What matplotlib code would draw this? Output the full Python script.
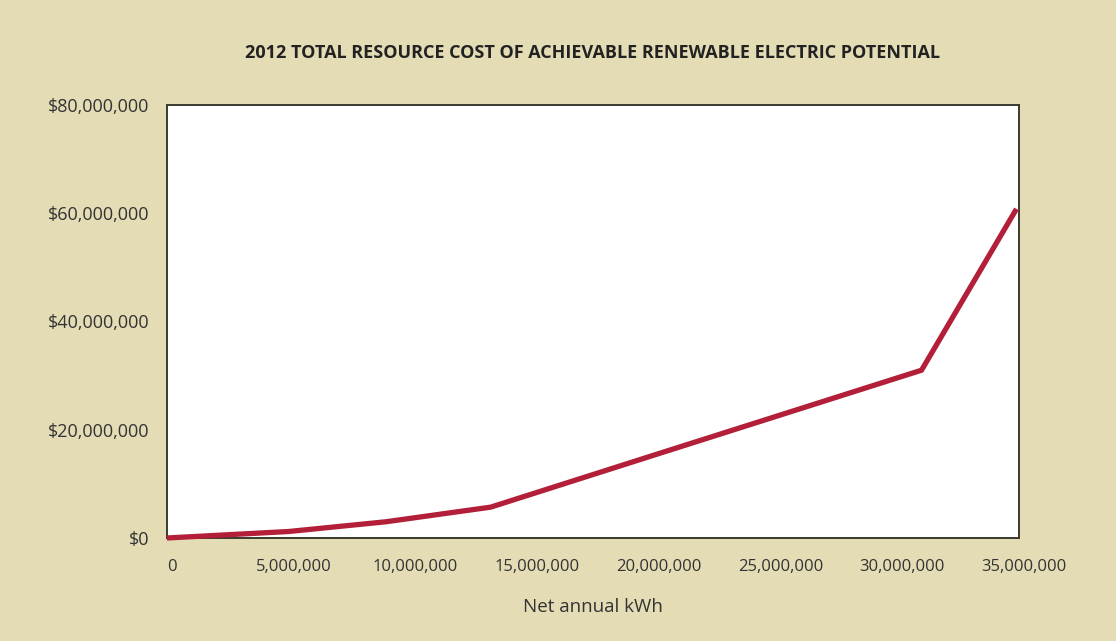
import matplotlib.pyplot as plt
from matplotlib.ticker import FuncFormatter
from matplotlib.transforms import ScaledTranslation

# values
kwh = [0, 5_000_000, 9_000_000, 13_300_000, 20_000_000, 31_000_000, 34_900_000]
cost = [0, 1_200_000, 3_000_000, 5_700_000, 15_300_000, 31_000_000, 60_800_000]
x_ticks = [0, 5_000_000, 10_000_000, 15_000_000, 20_000_000, 25_000_000, 30_000_000, 35_000_000]
y_ticks = [0, 20_000_000, 40_000_000, 60_000_000, 80_000_000]

title = "2012 TOTAL RESOURCE COST OF ACHIEVABLE RENEWABLE ELECTRIC POTENTIAL"
xlabel = "Net annual kWh"

bg = "#e3dcb5"
line_color = "#b31f38"
text_color = "#333333"

plt.rcParams["font.family"] = ["Open Sans", "DejaVu Sans"]

fig = plt.figure(figsize=(11.16, 6.41), dpi=100, facecolor=bg)
ax = fig.add_axes([0.1496, 0.1607, 0.7634, 0.6755])
ax.set_facecolor("white")

ax.plot(kwh, cost, color=line_color, linewidth=3.8, solid_capstyle="butt",
        solid_joinstyle="round", clip_on=False, zorder=3)

ax.set_xlim(0, 35_000_000)
ax.set_ylim(0, 80_000_000)
ax.set_xticks(x_ticks)
ax.set_yticks(y_ticks)
ax.xaxis.set_major_formatter(FuncFormatter(lambda v, p: f"{int(v):,}"))
ax.yaxis.set_major_formatter(FuncFormatter(lambda v, p: f"${int(v):,}"))
ax.tick_params(axis="both", length=0, colors=text_color)
ax.tick_params(axis="x", pad=15, labelsize=12)
ax.tick_params(axis="y", pad=12.5, labelsize=13)

# x labels in the reference sit a few px right of their ticks
shift = ScaledTranslation(5 / 100, 0, fig.dpi_scale_trans)
for lbl in ax.get_xticklabels():
    lbl.set_transform(lbl.get_transform() + shift)

for s in ax.spines.values():
    s.set_color("#3a3a30")
    s.set_linewidth(1.4)

ax.set_xlabel(xlabel, fontsize=13.5, color=text_color, labelpad=17)
fig.text(0.531, 0.918, title, ha="center", va="center", fontsize=13,
         fontweight="bold", color="#222222")

fig.savefig("out.png", dpi=100, facecolor=bg)
